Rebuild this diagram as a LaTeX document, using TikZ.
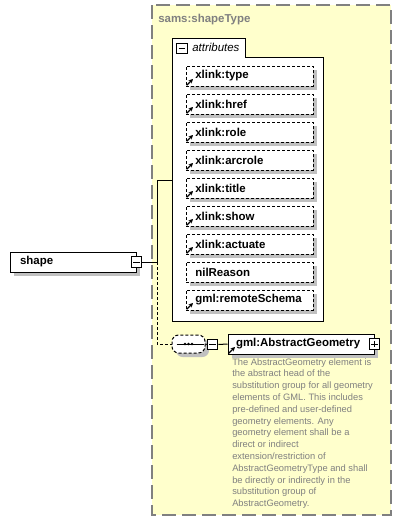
\documentclass[tikz,border=0pt]{standalone}
\usepackage{fontspec}
\setmainfont{Liberation Sans}
\usetikzlibrary{arrows.meta}

\definecolor{typeyellow}{HTML}{FFFFCC}
\definecolor{framegray}{HTML}{808080}
\definecolor{shadowgray}{HTML}{C0C0C0}
\definecolor{notegray}{HTML}{808080}

\tikzset{
  shadowed/.style={preaction={fill=shadowgray, transform canvas={xshift=3pt, yshift=-3pt}}},
  labelfont/.style={font=\bfseries\fontsize{8.6}{10}\selectfont},
  attrbox/.style={draw, line width=0.75pt, dash pattern=on 2.25pt off 1.5pt, fill=white, shadowed,
    minimum width=95.25pt, minimum height=15pt, text width=81.25pt, inner xsep=7pt, inner ysep=0pt,
    align=left, labelfont},
  elembox/.style={draw, line width=0.75pt, fill=white, shadowed, minimum height=15pt,
    inner ysep=0pt, align=left, labelfont},
  seqbox/.style={draw, line width=0.75pt, dash pattern=on 2.25pt off 1.5pt, rounded corners=5pt,
    fill=white, shadowed, minimum width=24.75pt, minimum height=13.5pt},
  togglebox/.style={draw, line width=0.75pt, fill=white, minimum size=8pt, inner sep=0pt},
  minusbox/.style={togglebox,
    path picture={\draw[line width=0.75pt] ([xshift=1.5pt]path picture bounding box.west) -- ([xshift=-1.5pt]path picture bounding box.east);}},
  plusbox/.style={togglebox,
    path picture={\draw[line width=0.75pt] ([xshift=1.5pt]path picture bounding box.west) -- ([xshift=-1.5pt]path picture bounding box.east);
      \draw[line width=0.75pt] ([yshift=-1.5pt]path picture bounding box.north) -- ([yshift=1.5pt]path picture bounding box.south);}},
  linkarrow/.style={-{Stealth[length=3.2pt,width=3.2pt]}, line width=0.9pt},
}

\begin{document}
\begin{tikzpicture}[x=0.75pt,y=0.75pt,yscale=-1,xscale=1]
\useasboundingbox (0,0) rectangle (402,521);

%Shape: complex type frame
\draw [line width=1.1pt, framegray, dash pattern=on 10.5pt off 4.5pt, fill=typeyellow] (152,5) rectangle (391,515);
% Text Node
\node [anchor=west, inner sep=0pt, text=framegray, labelfont] (typetitle) at (158,20) {sams:shapeType};

%Shape: attributes group
\draw [line width=0.75pt, fill=white] (172,38) -- (245,38) -- (245,57) -- (323,57) -- (323,321) -- (172,321) -- cycle;
\node [minusbox] (attrminus) at (182,48.5) {};
% Text Node
\node [anchor=west, inner sep=0pt, font=\itshape\fontsize{8.6}{10}\selectfont] (attrlabel) at (192,47.5) {attributes};

% attributes
\foreach \nm/\lab/\ic [count=\i] in {xtype/xlink:type/1, xhref/xlink:href/1, xrole/xlink:role/1,
    xarcrole/xlink:arcrole/1, xtitle/xlink:title/1, xshow/xlink:show/1, xactuate/xlink:actuate/1,
    nilreason/nilReason/0, remoteschema/gml:remoteSchema/1} {
  \node [attrbox] (\nm) at (249.5,48+28*\i) {\lab};
  \ifnum\ic=1 \draw [linkarrow] ([shift={(1.2,-1.2)}]\nm.south west) -- ++(6.3,-6.3); \fi
}

%Shape: element shape
\node [elembox, minimum width=94.5pt, text width=79.5pt, inner xsep=7.5pt] (shape) at (73,262) {shape};
\node [minusbox] (shapeminus) at (shape.east) {};

%Shape: sequence
\node [seqbox] (seq) at (188.5,344) {};
\draw [line width=0.75pt] ([xshift=3.75pt]seq.west) -- ([xshift=-1.5pt]seq.east);
\foreach \dx in {-3.5,0,3.5}
  \fill ([shift={(\dx,0)}]seq.center) circle (1.3);
\node [minusbox] (seqminus) at (212.5,344.5) {};

%Shape: element gml:AbstractGeometry
\node [elembox, minimum width=109.5pt, text width=97.5pt, inner xsep=6pt] (abstractgeom) at (301,344) {gml:AbstractGeometry};
\draw [linkarrow] ([shift={(1.2,-1.2)}]abstractgeom.south west) -- ++(6.3,-6.3);
\node [plusbox] (geomplus) at (abstractgeom.east) {};

% connectors
\coordinate (fork) at (157,262);
\coordinate (attrin) at (172,180);
\draw [line width=0.75pt] (shapeminus.east) -- (fork);
\draw [line width=0.75pt] (fork) |- (attrin);
\draw [line width=0.75pt, dash pattern=on 2.25pt off 1.5pt] (fork) |- (seq.west);
\draw [line width=0.75pt] (seq.east) -- (seqminus.west);
\draw [line width=0.75pt] (seqminus.east) -- (abstractgeom.west);

% Text Node
\node [anchor=north west, inner sep=0pt, text=notegray, align=left, font=\fontsize{7}{8.85}\selectfont] (geomnote) at (232,358) {The AbstractGeometry element is\\
the abstract head of the\\
substitution group for all geometry\\
elements of GML. This includes\\
pre-defined and user-defined\\
geometry elements. Any\\
geometry element shall be a\\
direct or indirect\\
extension/restriction of\\
AbstractGeometryType and shall\\
be directly or indirectly in the\\
substitution group of\\
AbstractGeometry.};

\end{tikzpicture}
\end{document}
